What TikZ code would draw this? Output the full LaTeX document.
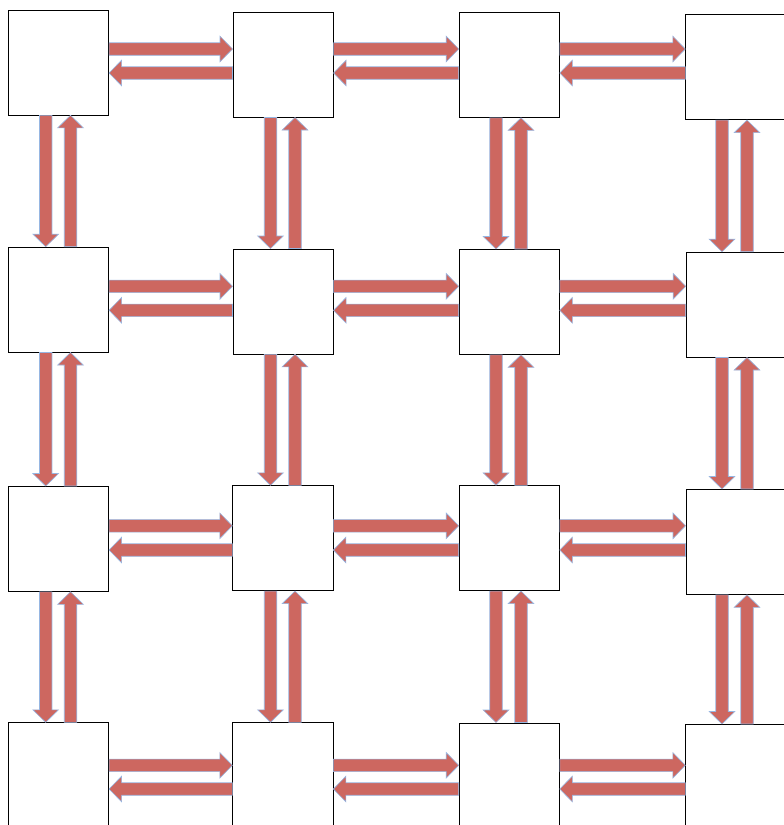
\documentclass[tikz,border=0pt]{standalone}
\usetikzlibrary{calc}
\definecolor{arrred}{RGB}{205,103,96}
\definecolor{arrblue}{RGB}{150,182,226}
\tikzset{
  box/.style={draw=black, line width=0.8pt, fill=white, minimum width=100.3pt, minimum height=105pt, inner sep=0pt, anchor=north west},
  barrow/.style={fill=arrred, draw=arrblue, line width=0.6pt, line join=miter}
}
\newcommand\blockarrow[2]{%
  \path[barrow] let \p1=(#1), \p2=(#2), \p3=($(#2)!12.5pt!(#1)$) in
   ($(\p1)!6.25pt!90:(\p2)$) -- ($(\p3)!6.25pt!-90:(\p1)$) -- ($(\p3)!12.8pt!-90:(\p1)$) -- (\p2)
   -- ($(\p3)!12.8pt!90:(\p1)$) -- ($(\p3)!6.25pt!90:(\p1)$) -- ($(\p1)!6.25pt!-90:(\p2)$) -- cycle;}
\begin{document}
\begin{tikzpicture}[x=1pt,y=-1pt]
\useasboundingbox (0,0) rectangle (784,825);
\fill[white] (0,0) rectangle (784,825);
\clip (0,0) rectangle (784,825);
% boxes
\node[box] (b00) at (8,9.5) {};
\node[box] (b01) at (232.5,11.7) {};
\node[box] (b02) at (458.7,12) {};
\node[box] (b03) at (685.3,14.3) {};
\node[box] (b10) at (8,246.7) {};
\node[box] (b11) at (232.5,248.5) {};
\node[box] (b12) at (458.7,249) {};
\node[box] (b13) at (685.7,251.7) {};
\node[box] (b20) at (8,486) {};
\node[box] (b21) at (232.3,485.3) {};
\node[box] (b22) at (458.7,485.3) {};
\node[box] (b23) at (685.5,489) {};
\node[box] (b30) at (8,722.3) {};
\node[box] (b31) at (232.3,722.3) {};
\node[box] (b32) at (458.7,722.5) {};
\node[box] (b33) at (685.3,724) {};
% horizontal arrows
\foreach \r/\ya/\yb in {0/49/73, 1/286.3/310.3, 2/525.8/550, 3/765.3/789} {
  \foreach \c/\n in {0/1,1/2,2/3} {
    \coordinate (ta) at (b\r\c.east |- 0,\ya);
    \coordinate (ha) at (b\r\n.west |- 0,\ya);
    \coordinate (tb) at (b\r\n.west |- 0,\yb);
    \coordinate (hb) at (b\r\c.east |- 0,\yb);
    \blockarrow{ta}{ha}
    \blockarrow{tb}{hb}
  }
}
% vertical arrows
\foreach \c/\ua/\ub in {0/45.7/70.5, 1/270.5/295, 2/496/521, 3/722/747} {
  \foreach \r/\n in {0/1,1/2,2/3} {
    \coordinate (ta) at (\ua,0 |- b\r\c.south);
    \coordinate (ha) at (\ua,0 |- b\n\c.north);
    \coordinate (tb) at (\ub,0 |- b\n\c.north);
    \coordinate (hb) at (\ub,0 |- b\r\c.south);
    \blockarrow{ta}{ha}
    \blockarrow{tb}{hb}
  }
}
\end{tikzpicture}
\end{document}
